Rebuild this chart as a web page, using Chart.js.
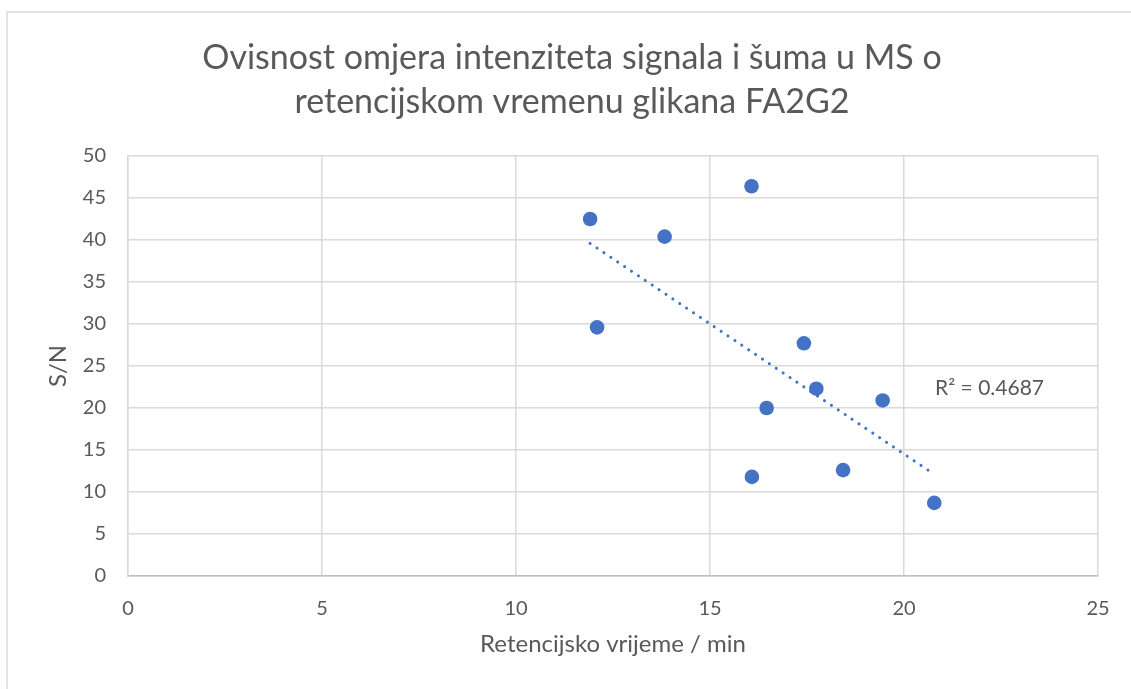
<html>
<head>
    <script src="https://cdn.jsdelivr.net/npm/chart.js@4.4.3/dist/chart.umd.min.js"></script>
    <style>
        body { margin: 0; background: #fff; }
        #wrap { width: 1131px; height: 689px; }
    </style>
</head>
<body>
<div id="wrap"><canvas id="mychart"></canvas></div>
<script>
    // retention time (min) and S/N
    const rt = [11.91, 12.09, 13.83, 16.07, 16.08, 16.46, 17.42, 17.74, 18.43, 19.45, 20.78];
    const sn = [42.5, 29.6, 40.4, 46.4, 11.8, 20.0, 27.7, 22.3, 12.6, 20.9, 8.7];
    const titleLines = ["Ovisnost omjera intenziteta signala i šuma u MS o", "retencijskom vremenu glikana FA2G2"];
    const xTitle = "Retencijsko vrijeme / min";
    const yTitle = "S/N";
    const r2Label = "R² = 0.4687";

    const blue = "#4472C4";
    const txt = "#595959";
    const grid = "#D9D9D9";
    const fnt = "Lato, 'Open Sans', sans-serif";

    // linear trendline (least squares) from min to max x
    let n = rt.length, sx = 0, sy = 0, sxy = 0, sxx = 0;
    for (let i = 0; i < n; i++) {
        sx += rt[i]; sy += sn[i]; sxy += rt[i] * sn[i]; sxx += rt[i] * rt[i];
    }
    let slope = (n * sxy - sx * sy) / (n * sxx - sx * sx);
    let icept = (sy - slope * sx) / n;
    let xmin = Math.min(...rt), xmax = Math.max(...rt);
    let trend = [{x: xmin, y: icept + slope * xmin}, {x: xmax, y: icept + slope * xmax}];

    let points = rt.map((x, i) => ({x: x, y: sn[i]}));

    const frame = {
        id: 'frame',
        beforeDraw(chart) {
            let c = chart.ctx;
            c.save();
            c.fillStyle = '#fff';
            c.fillRect(0, 0, chart.width, chart.height);
            c.strokeStyle = grid;
            c.lineWidth = 1.5;
            c.beginPath();
            c.moveTo(7, chart.height);
            c.lineTo(7, 12);
            c.lineTo(chart.width, 12);
            c.stroke();
            c.restore();
        },
        afterDraw(chart) {
            let c = chart.ctx;
            let xs = chart.scales.x, ys = chart.scales.y;
            c.save();
            c.font = "21px " + fnt;
            c.fillStyle = txt;
            c.textAlign = 'left';
            c.textBaseline = 'middle';
            c.fillText(r2Label, xs.getPixelForValue(20.8), ys.getPixelForValue(22.4));
            c.restore();
        }
    };

    let config = {
        type: "scatter",
        data: {
            datasets: [
                {
                    label: "S/N",
                    data: points,
                    backgroundColor: blue,
                    borderColor: blue,
                    pointRadius: 7.3,
                    pointHoverRadius: 7.3,
                    borderWidth: 0
                },
                {
                    label: "trend",
                    type: "line",
                    data: trend,
                    borderColor: blue,
                    borderWidth: 3,
                    borderDash: [0.1, 8.2],
                    borderCapStyle: 'round',
                    pointRadius: 0,
                    fill: false
                }
            ]
        },
        options: {
            responsive: true,
            maintainAspectRatio: false,
            animation: false,
            layout: { padding: { left: 46, right: 33, top: 12, bottom: 0 } },
            plugins: {
                legend: { display: false },
                tooltip: { enabled: false },
                title: {
                    display: true,
                    text: titleLines,
                    color: txt,
                    font: { family: fnt, size: 34, weight: 'normal', lineHeight: 1.294 },
                    padding: { top: 24, bottom: 32 }
                }
            },
            scales: {
                x: {
                    type: 'linear',
                    min: 0, max: 25,
                    ticks: { stepSize: 5, color: txt, font: { family: fnt, size: 20 }, padding: 21 },
                    grid: { color: grid, lineWidth: 1.5, drawTicks: false },
                    border: { color: '#BFBFBF', width: 1.5 },
                    title: { display: true, text: xTitle, color: txt, font: { family: fnt, size: 24 }, padding: { top: 0, bottom: 30 } },
                    afterFit(s) { s.height = 113; }
                },
                y: {
                    min: 0, max: 50,
                    ticks: { stepSize: 5, color: txt, font: { family: fnt, size: 20 }, padding: 22 },
                    grid: { color: grid, lineWidth: 1.5, drawTicks: false },
                    border: { color: grid, width: 1.5 },
                    title: { display: true, text: yTitle, color: txt, font: { family: fnt, size: 24, lineHeight: 1 }, padding: { top: 0, bottom: 0 } },
                    afterFit(s) { s.width = 82; }
                }
            }
        },
        plugins: [frame]
    };

    new Chart(document.getElementById('mychart'), config);
</script>
</body>
</html>
